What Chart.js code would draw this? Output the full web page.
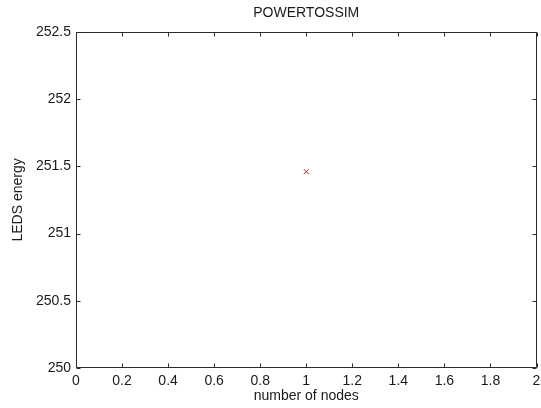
<!DOCTYPE html>
<html>
<head>
<meta charset="utf-8">
<script src="https://cdn.jsdelivr.net/npm/chart.js@4/dist/chart.umd.min.js"></script>
<style>
  html, body { margin: 0; padding: 0; background: #ffffff; }
  #wrap { width: 541px; height: 408px; }
</style>
</head>
<body>
<div id="wrap"><canvas id="c" width="541" height="408"></canvas></div>
<script>
// ---- data ----
const chartTitle = "POWERTOSSIM";
const xAxisLabel = "number of nodes";
const yAxisLabel = "LEDS energy";
const xValues = [1];
const yValues = [251.46];
const xTicks = [0, 0.2, 0.4, 0.6, 0.8, 1, 1.2, 1.4, 1.6, 1.8, 2];
const yTicks = [250, 250.5, 251, 251.5, 252, 252.5];

// ---- style ----
const FONT = "'Liberation Sans', Arial, Helvetica, sans-serif";
const TEXT = "#1a1a1a";
const AXIS = "#2b2b2b";
const TICK_LEN = 4;

const framePlugin = {
  id: 'frame',
  afterDraw(chart) {
    const { ctx, chartArea, scales } = chart;
    const L = Math.round(chartArea.left) + 0.5;
    const R = Math.round(chartArea.right) - 0.5;
    const T = Math.round(chartArea.top) + 0.5;
    const B = Math.round(chartArea.bottom) - 0.5;
    ctx.save();
    ctx.strokeStyle = AXIS;
    ctx.lineWidth = 1;
    ctx.beginPath();
    ctx.rect(L, T, R - L, B - T);
    ctx.stroke();
    ctx.beginPath();
    scales.x.ticks.forEach(t => {
      const px = Math.round(scales.x.getPixelForValue(t.value)) + 0.5;
      ctx.moveTo(px, B); ctx.lineTo(px, B - TICK_LEN);
      ctx.moveTo(px, T); ctx.lineTo(px, T + TICK_LEN);
    });
    scales.y.ticks.forEach(t => {
      const py = Math.round(scales.y.getPixelForValue(t.value)) + 0.5;
      ctx.moveTo(L, py); ctx.lineTo(L + TICK_LEN, py);
      ctx.moveTo(R, py); ctx.lineTo(R - TICK_LEN, py);
    });
    ctx.stroke();
    ctx.restore();
  }
};

new Chart(document.getElementById('c'), {
  type: 'scatter',
  data: {
    datasets: [{
      data: xValues.map((x, i) => ({ x: x, y: yValues[i] })),
      pointStyle: 'crossRot',
      radius: 3.5,
      hoverRadius: 3.5,
      borderColor: '#d11a2a',
      backgroundColor: '#d11a2a',
      borderWidth: 1,
      showLine: false
    }]
  },
  options: {
    responsive: false,
    animation: false,
    devicePixelRatio: 1,
    layout: { padding: { left: 0, right: 3, top: 0, bottom: 0 } },
    plugins: {
      legend: { display: false },
      tooltip: { enabled: false },
      title: {
        display: true,
        text: chartTitle,
        fullSize: false,
        color: TEXT,
        font: { family: FONT, size: 14, weight: 'normal' },
        padding: { top: 5, bottom: 10 }
      }
    },
    scales: {
      x: {
        type: 'linear',
        min: 0, max: 2,
        afterBuildTicks: s => { s.ticks = xTicks.map(v => ({ value: v })); },
        afterFit: s => { s.height = 40; s.paddingRight = 0; s.paddingLeft = 0; },
        grid: { display: false, drawTicks: false },
        border: { display: false },
        ticks: {
          color: TEXT,
          font: { family: FONT, size: 14 },
          padding: 5,
          maxRotation: 0,
          autoSkip: false,
          callback: v => String(v)
        },
        title: {
          display: true,
          text: xAxisLabel,
          color: TEXT,
          font: { family: FONT, size: 14 },
          padding: { top: 0, bottom: 3 }
        }
      },
      y: {
        type: 'linear',
        min: 250, max: 252.5,
        afterBuildTicks: s => { s.ticks = yTicks.map(v => ({ value: v })); },
        afterFit: s => { s.width = 76; },
        grid: { display: false, drawTicks: false },
        border: { display: false },
        ticks: {
          color: TEXT,
          font: { family: FONT, size: 14 },
          padding: 5,
          autoSkip: false,
          callback: v => String(v)
        },
        title: {
          display: true,
          text: yAxisLabel,
          color: TEXT,
          font: { family: FONT, size: 14 },
          padding: { top: 10, bottom: 0 }
        }
      }
    }
  },
  plugins: [framePlugin]
});
</script>
</body>
</html>
